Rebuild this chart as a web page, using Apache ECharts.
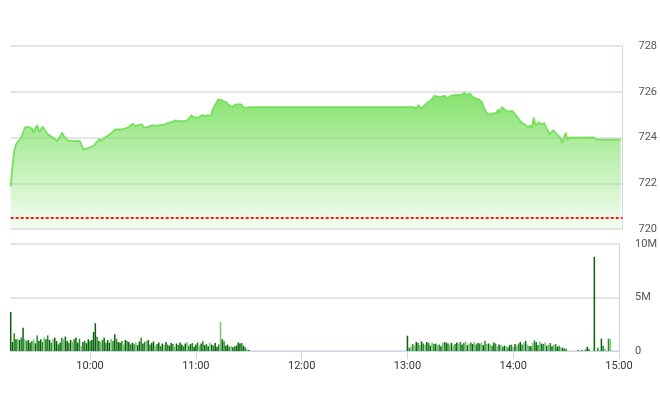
<!DOCTYPE html>
<html><head><meta charset="utf-8">
<script src="https://cdn.jsdelivr.net/npm/echarts@6/dist/echarts.min.js"></script>
<style>html,body{margin:0;padding:0;background:#fff}#c{width:660px;height:412px}</style>
</head><body><div id="c"></div>
<script>
// ---- DATA ----
const refPrice = 720.5;
const priceTimes = ["09:15","09:16","09:17","09:18","09:20","09:21","09:23","09:24","09:25","09:27","09:28","09:29","09:30","09:31","09:33","09:34","09:36","09:37","09:39","09:40","09:41","09:43","09:44","09:45","09:47","09:48","09:50","09:51","09:52","09:54","09:56","09:57","09:59","10:00","10:02","10:03","10:05","10:06","10:08","10:10","10:12","10:14","10:15","10:17","10:19","10:21","10:22","10:24","10:25","10:27","10:29","10:30","10:32","10:33","10:35","10:37","10:39","10:40","10:42","10:44","10:46","10:48","10:49","10:50","10:52","10:53","10:54","10:56","10:57","10:58","10:59","11:01","11:02","11:03","11:05","11:06","11:08","11:09","11:10","11:11","11:12","11:14","11:15","11:17","11:18","11:19","11:20","11:22","11:23","11:25","11:26","11:28","11:29","11:30",
"13:00","13:02","13:03","13:04","13:05","13:06","13:07","13:08","13:10","13:12","13:14","13:15","13:17","13:18","13:20","13:21","13:23","13:24","13:26","13:27","13:29","13:30","13:31","13:32","13:34","13:35","13:37","13:38","13:39","13:41","13:42","13:44","13:45","13:47","13:49","13:50","13:51","13:52","13:53","13:55","13:56","13:58","13:59","14:01","14:03","14:05","14:07","14:08","14:09","14:10","14:11","14:13","14:14","14:16","14:17","14:18","14:19","14:21","14:22","14:23","14:24","14:25","14:26","14:27","14:28","14:29","14:30","14:44","14:45","14:59"];
const priceValues = [721.86,722.74,723.4,723.7,723.9,724.0,724.43,724.38,724.47,724.38,724.2,724.43,724.53,724.23,724.47,724.35,724.13,724.18,723.99,723.94,723.84,724.06,724.21,724.06,723.88,723.94,723.84,723.91,723.84,723.84,723.47,723.5,723.55,723.59,723.65,723.72,723.94,723.84,723.99,724.09,724.21,724.35,724.28,724.35,724.38,724.43,724.5,724.6,724.5,724.54,724.57,724.43,724.45,724.4,724.54,724.5,724.54,724.6,724.57,724.65,724.67,724.75,724.79,724.72,724.72,724.69,724.72,724.87,724.98,724.89,724.94,724.87,724.94,724.98,724.94,725.01,724.98,725.23,725.38,725.52,725.67,725.63,725.6,725.52,725.42,725.38,725.33,725.45,725.38,725.45,725.33,725.3,725.23,725.33,
725.33,725.33,725.38,725.27,725.42,725.27,725.23,725.38,725.52,725.63,725.82,725.74,725.77,725.74,725.82,725.71,725.82,725.82,725.86,725.89,725.86,725.92,725.96,725.86,725.92,725.82,725.71,725.63,725.67,725.52,725.27,725.01,725.04,725.04,725.08,725.23,725.08,725.33,725.27,725.13,725.2,725.16,725.08,724.87,724.65,724.57,724.43,724.53,724.43,724.87,724.53,724.67,724.57,724.62,724.43,724.35,724.13,724.32,724.28,724.13,724.21,723.99,723.77,723.99,724.21,723.88,723.99,724.0,723.91,723.91];

// volume (millions), one bar per minute from the session start
const morningStart = "09:15";
const volMorning = [3.64,0.84,1.65,1.09,1.15,1.03,1.25,2.18,1.09,0.93,1.03,0.78,0.93,1.09,0.72,1.46,0.93,1.09,0.84,1.25,1.09,1.46,1.03,0.78,1.15,1.25,0.93,0.62,0.78,1.25,1.09,1.34,0.93,0.78,1.03,0.84,1.09,1.25,0.78,1.15,0.47,0.84,0.93,0.72,1.09,0.93,1.03,1.78,2.59,
1.34,0.93,0.84,1.03,1.25,0.78,1.03,0.78,1.15,0.93,1.56,1.15,0.84,0.78,0.93,0.62,1.03,0.93,0.84,0.62,0.78,
0.62,0.8,0.55,0.9,1.25,0.7,0.85,0.95,1.03,0.6,0.75,0.9,0.5,0.65,0.8,0.45,0.7,0.55,0.85,0.6,0.5,0.75,0.65,0.4,0.7,0.55,0.8,0.6,0.45,0.7,0.85,0.5,0.65,0.75,0.4,0.6,0.8,0.5,0.7,0.9,0.55,0.65,0.45,0.8,0.6,0.5,0.75,0.4,0.6,2.7,1.1,0.9,0.5,0.6,0.4,0.5,0.35,0.45,0.5,0.8,0.7,0.75,0.5,0.35,0.2,0.1];
const afternoonStart = "13:00";
const volAfternoon = [1.43,0.3,0.4,0.65,0.5,0.85,0.75,0.55,0.9,0.7,0.6,0.85,0.75,0.5,0.8,0.65,0.7,0.55,0.6,0.45,0.75,0.85,0.8,0.7,0.6,0.75,0.5,0.65,0.8,0.7,0.85,0.6,0.75,0.9,0.55,0.7,0.8,0.65,0.85,0.6,0.75,0.7,0.8,0.55,0.95,0.65,0.7,0.6,0.5,0.8,0.7,0.45,0.6,0.55,0.4,0.5,0.45,0.35,0.55,0.6,0.4,0.65,0.5,0.7,0.85,0.6,0.75,0.95,0.6,0.5,0.45,0.75,1.0,0.85,0.55,0.9,0.7,0.65,0.8,0.5,0.6,0.75,0.45,0.55,0.65,0.4,0.5,0.35,0.3,0.25,0.2];
const lateTimes = ["14:37","14:39","14:41","14:42","14:43","14:46","14:48","14:50","14:51","14:52","14:54","14:55"];
const lateVols = [0.1,0.1,0.15,0.4,0.2,8.8,0.3,1.15,0.5,0.2,1.15,1.15];
// trade side per bar: B buy, S sell, M mixed
const sideMorning = "BBSBMBSBMSBBSMBSBBSMBSBSMBBSBSMBBSBMSBBSMBSBBSBBB" + "SBMSBSBBMSBSBBSMBSBS" + "BSMBBSBSMBSBBMSBSBMBSBBSMBSBBSBMSBSBBSMBSBSBMBSBBSMBSBBSMBSBBBSBSMB";
const sideAfternoon = "BSMSMBSMBSMBSBMSBMSBMSBSMBMSBMSBSMBMSBMSBSMBSMBMSBSMBMSBMSBSMBMSBSMBMSBMSBSMBSMBMSBMSBSMB";
const sideLate = "SSSBSBSBSMSM";
const hourTicks = ["10:00","11:00","12:00","13:00","14:00","15:00"];

// ---- BUILD ----
const toMin = s => { const p = s.split(':'); return +p[0]*60 + +p[1]; };
const fmt = m => String(Math.floor(m/60)).padStart(2,'0') + ':' + String(m%60).padStart(2,'0');
function shade(ch){ return ch==='B' ? '#086008' : (ch==='M' ? '#74c474' : '#1e8c1e'); }
const priceData = priceTimes.map((t,i)=>[toMin(t), priceValues[i]]);
const volData = [];
volMorning.forEach((v,i)=>volData.push({value:[toMin(morningStart)+i, v], itemStyle:{color:shade(sideMorning[i]||'S')}}));
volAfternoon.forEach((v,i)=>volData.push({value:[toMin(afternoonStart)+i, v], itemStyle:{color:shade(sideAfternoon[i]||'S')}}));
lateVols.forEach((v,i)=>volData.push({value:[toMin(lateTimes[i]), v], itemStyle:{color:shade(sideLate[i]||'S')}}));
const tickVals = hourTicks.map(toMin);
const xMin = toMin("09:15"), xMax = toMin("15:00");

const font = 'Roboto, "Noto Sans", sans-serif';
const chart = echarts.init(document.getElementById('c'), null, {renderer:'canvas'});
chart.setOption({
  animation:false,
  backgroundColor:'#fff',
  grid:[
    {left:10.7, right:36.5, top:46, height:183},
    {left:10.7, right:36.5, top:244, height:107}
  ],
  xAxis:[
    {gridIndex:0, type:'value', min:xMin, max:xMax, show:false, splitLine:{show:false}},
    {gridIndex:1, type:'value', min:xMin, max:xMax,
      axisLine:{show:true, lineStyle:{color:'#ccd6eb', width:1}},
      axisTick:{show:true, customValues:tickVals, length:8, lineStyle:{color:'#ccd6eb'}},
      axisLabel:{show:true, customValues:tickVals, formatter:v=>fmt(v), color:'#333', fontSize:11, fontFamily:font, margin:10},
      splitLine:{show:false}}
  ],
  yAxis:[
    {gridIndex:0, type:'value', position:'right', min:720, max:728, interval:2,
      axisLine:{show:true, lineStyle:{color:'#ccd6eb'}}, axisTick:{show:false},
      axisLabel:{color:'#555', fontSize:11, fontFamily:font, margin:16},
      splitLine:{show:true, lineStyle:{color:'#dcdcdc', width:1.5}}},
    {gridIndex:1, type:'value', position:'right', min:0, max:10, interval:5,
      axisLine:{show:true, lineStyle:{color:'#ccd6eb'}}, axisTick:{show:false},
      axisLabel:{color:'#555', fontSize:11, fontFamily:font, margin:16, formatter:v=> v===0?'0':v+'M'},
      splitLine:{show:true, lineStyle:{color:'#dcdcdc', width:1.5}}}
  ],
  series:[
    {type:'line', xAxisIndex:0, yAxisIndex:0, data:priceData, showSymbol:false, symbol:'none',
      lineStyle:{color:'#76e05a', width:1.8},
      areaStyle:{opacity:1, color:new echarts.graphic.LinearGradient(0,0,0,1,[
        {offset:0, color:'rgba(112,222,84,0.85)'},
        {offset:0.5, color:'rgba(112,222,84,0.45)'},
        {offset:1, color:'rgba(112,222,84,0.08)'}])},
      markLine:{symbol:'none', silent:true, label:{show:false},
        lineStyle:{color:'#ff1a1a', type:[3,2], width:2},
        data:[{yAxis:refPrice}]},
      z:3},
    {type:'bar', xAxisIndex:1, yAxisIndex:1, data:volData, barWidth:1.5, z:3}
  ]
});
</script></body></html>
